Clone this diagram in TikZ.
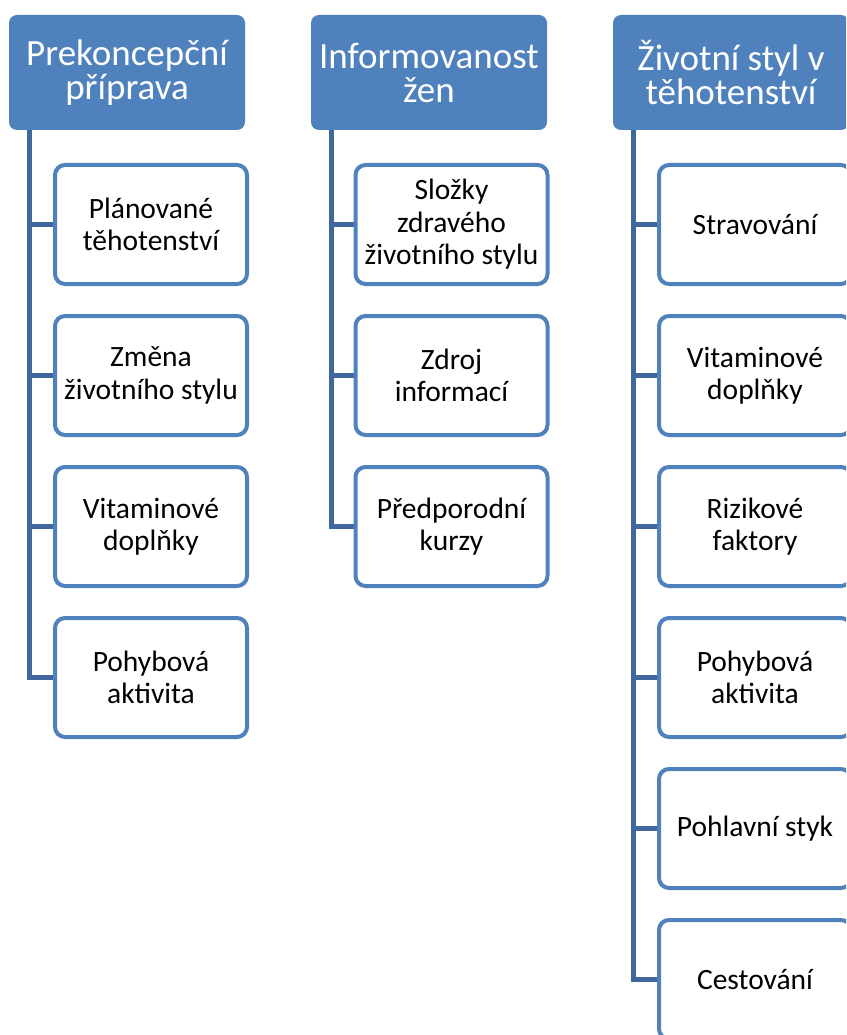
\documentclass[tikz,border=0pt]{standalone}
\usepackage{fontspec}
\setmainfont{Carlito}
\definecolor{accent}{HTML}{4F81BD}
\definecolor{linkblue}{HTML}{41689C}
\tikzset{
  head/.style={rectangle, rounded corners=8pt, fill=accent, text=white,
    minimum width=236pt, minimum height=115pt, inner sep=0pt, align=center,
    font=\fontsize{37}{34}\selectfont},
  item/.style={rectangle, rounded corners=10pt, draw=accent, line width=4pt, fill=white,
    text=black, minimum width=192pt, minimum height=119pt, inner sep=0pt, align=center,
    font=\fontsize{29.5}{32.5}\selectfont},
  slot/.style={item, draw=none, fill=none, text opacity=0},
  conn/.style={draw=linkblue, line width=5pt}
}
\begin{document}
\begin{tikzpicture}[x=1pt,y=-1pt]
\useasboundingbox (0,0) rectangle (846,1035);
\clip (0,0) rectangle (846,1035);

% column headers
\node[head] (h1) at (127,72.5) {Prekoncepční\\příprava};
\node[head] (h2) at (429,72.5) {Informovanost\\žen};
\node[head] (h3) at (731,72.5) {Životní styl v\\těhotenství};

% spine start points under each header
\coordinate (s1) at ([xshift=21pt]h1.south west);
\coordinate (s2) at ([xshift=21pt]h2.south west);
\coordinate (s3) at ([xshift=21pt]h3.south west);

% invisible slots fixing where the item boxes sit
\node[slot] (a1) at (151,224.5) {Plánované\\těhotenství};
\node[slot] (a2) at (151,375.5) {Změna\\životního stylu};
\node[slot] (a3) at (151,526.5) {Vitaminové\\doplňky};
\node[slot] (a4) at (151,677.5) {Pohybová\\aktivita};
\node[slot] (b1) at (451.5,224.5) {Složky\\zdravého\\životního stylu};
\node[slot] (b2) at (451.5,375.5) {Zdroj\\informací};
\node[slot] (b3) at (451.5,526.5) {Předporodní\\kurzy};
\node[slot] (c1) at (755,224.5) {Stravování};
\node[slot] (c2) at (755,375.5) {Vitaminové\\doplňky};
\node[slot] (c3) at (755,526.5) {Rizikové\\faktory};
\node[slot] (c4) at (755,677.5) {Pohybová\\aktivita};
\node[slot] (c5) at (755,828.5) {Pohlavní styk};
\node[slot] (c6) at (755,979.5) {Cestování};

% connectors (drawn first so the boxes cover their ends)
\draw[conn] (s1) |- (a4.west);
\foreach \n in {a1,a2,a3} \draw[conn] (s1 |- \n.west) -- (\n.west);
\draw[conn] (s2) |- (b3.west);
\foreach \n in {b1,b2} \draw[conn] (s2 |- \n.west) -- (\n.west);
\draw[conn] (s3) |- (c6.west);
\foreach \n in {c1,c2,c3,c4,c5} \draw[conn] (s3 |- \n.west) -- (\n.west);

% item boxes
\node[item] at (a1) {Plánované\\těhotenství};
\node[item] at (a2) {Změna\\životního stylu};
\node[item] at (a3) {Vitaminové\\doplňky};
\node[item] at (a4) {Pohybová\\aktivita};
\node[item] at (b1) {Složky\\zdravého\\životního stylu};
\node[item] at (b2) {Zdroj\\informací};
\node[item] at (b3) {Předporodní\\kurzy};
\node[item] at (c1) {Stravování};
\node[item] at (c2) {Vitaminové\\doplňky};
\node[item] at (c3) {Rizikové\\faktory};
\node[item] at (c4) {Pohybová\\aktivita};
\node[item] at (c5) {Pohlavní styk};
\node[item] at (c6) {Cestování};
\end{tikzpicture}
\end{document}
